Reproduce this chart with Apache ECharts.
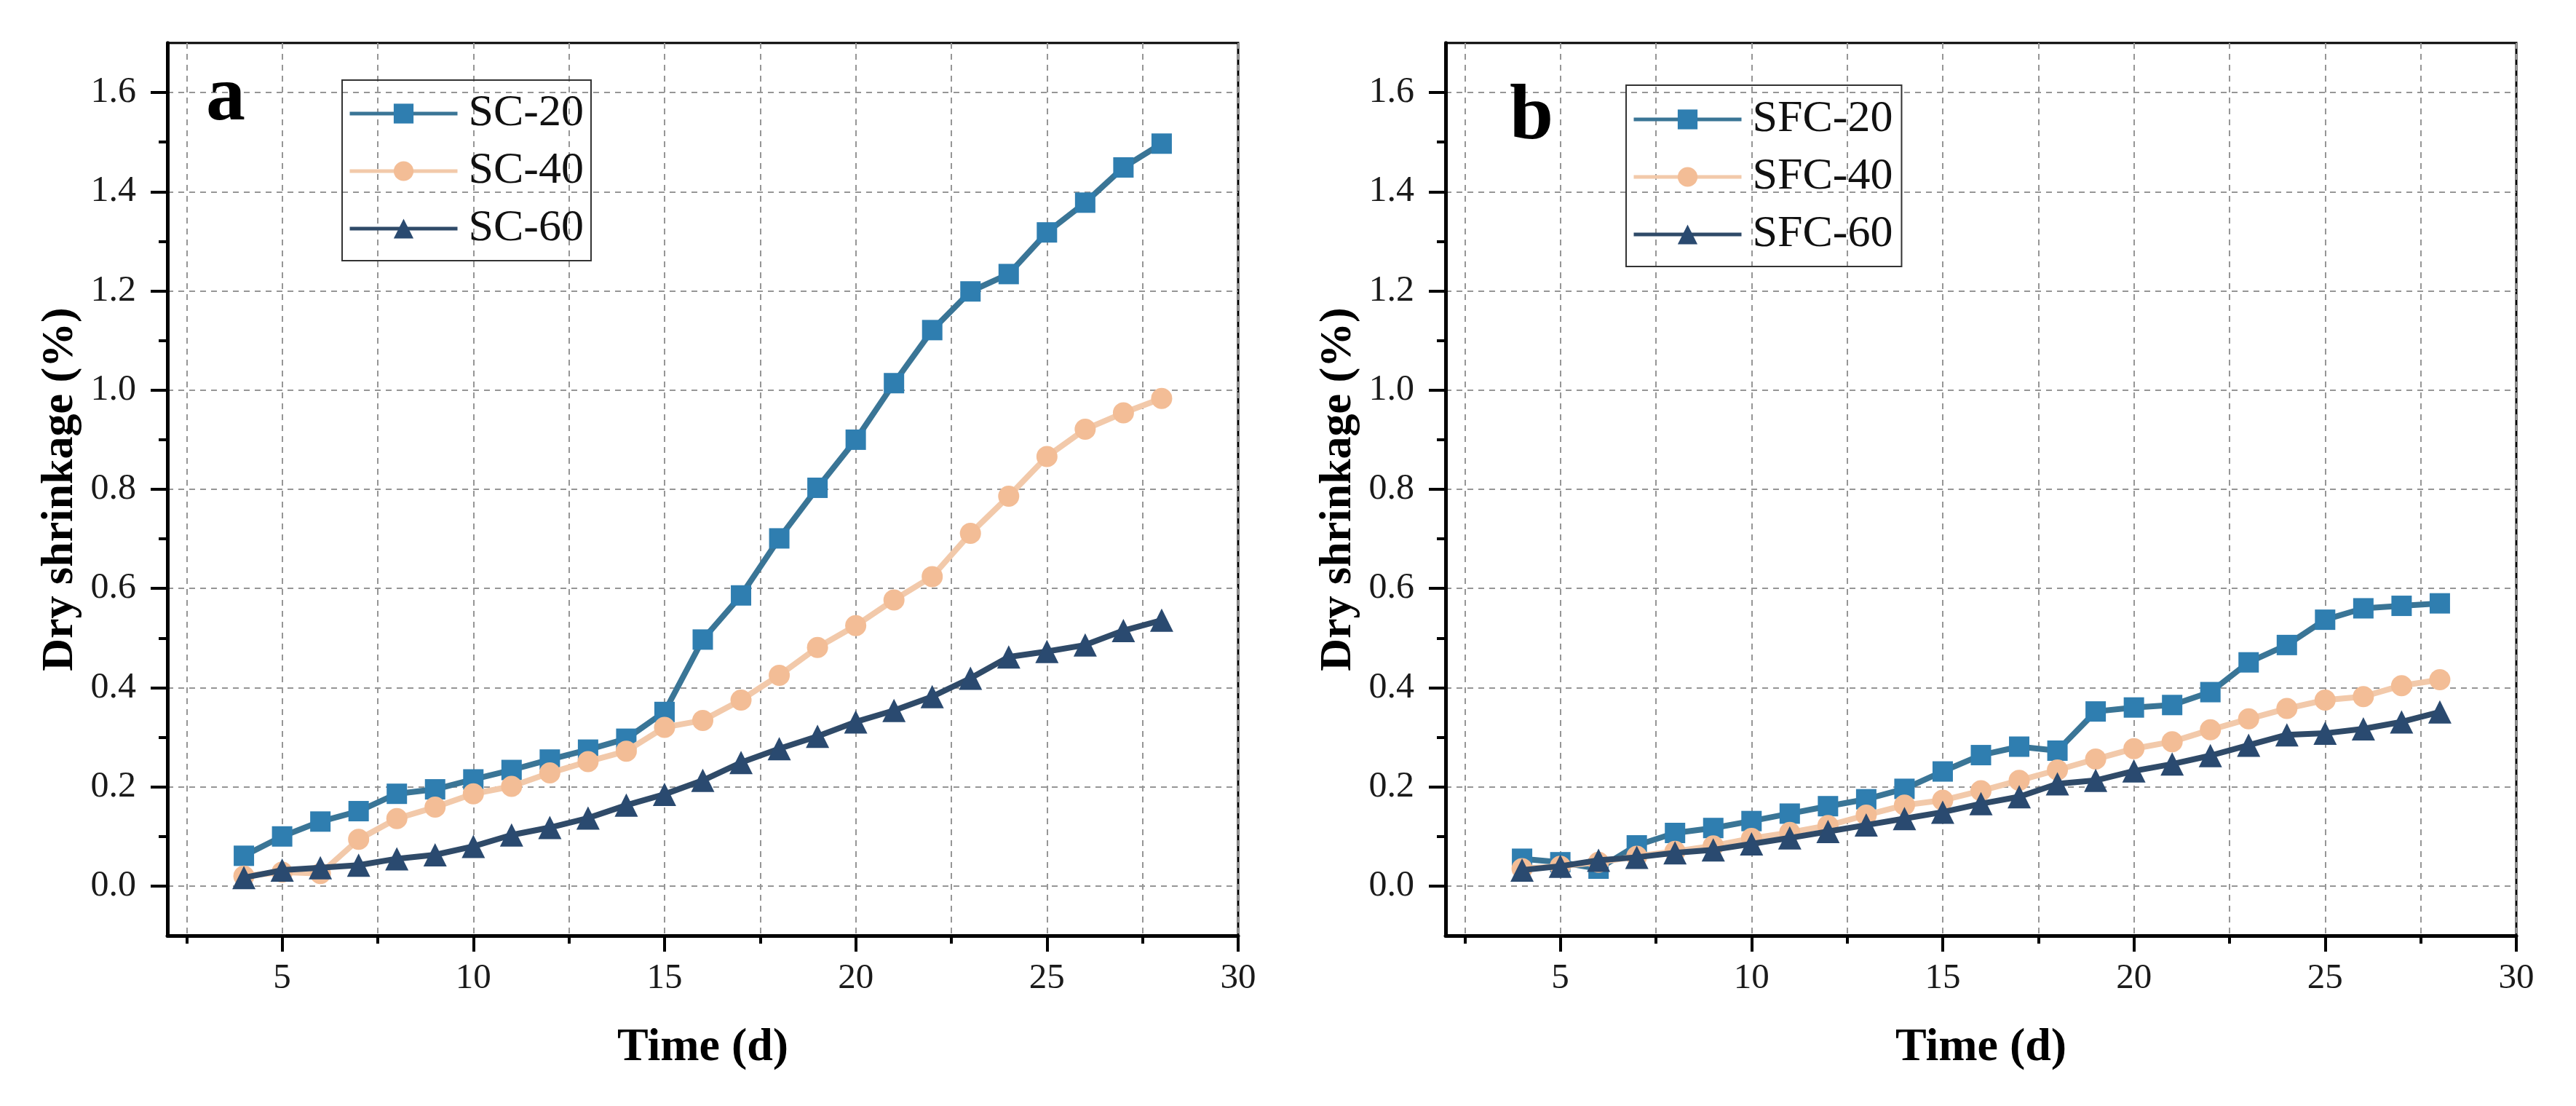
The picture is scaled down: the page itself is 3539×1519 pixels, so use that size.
<!DOCTYPE html>
<html><head><meta charset="utf-8">
<script src="https://cdn.jsdelivr.net/npm/echarts@6/dist/echarts.min.js"></script>
<style>html,body{margin:0;padding:0;background:#fff}#c{width:3539px;height:1519px}</style>
</head><body><div id="c"></div>
<script>
// ---------- data ----------
const days = [4,5,6,7,8,9,10,11,12,13,14,15,16,17,18,19,20,21,22,23,24,25,26,27,28];
const SC20 = [0.061,0.100,0.130,0.151,0.186,0.195,0.215,0.234,0.255,0.275,0.297,0.351,0.497,0.586,0.701,0.803,0.900,1.014,1.121,1.199,1.234,1.318,1.378,1.449,1.497];
const SC40 = [0.020,0.028,0.025,0.094,0.136,0.159,0.186,0.201,0.228,0.251,0.272,0.320,0.334,0.375,0.425,0.481,0.525,0.577,0.624,0.711,0.786,0.866,0.921,0.954,0.983];
const SC60 = [0.017,0.032,0.037,0.042,0.055,0.063,0.080,0.103,0.118,0.137,0.163,0.185,0.213,0.249,0.277,0.302,0.331,0.354,0.382,0.419,0.462,0.473,0.486,0.515,0.536];
const SFC20 = [0.055,0.048,0.035,0.082,0.107,0.117,0.131,0.146,0.161,0.175,0.196,0.231,0.264,0.281,0.273,0.352,0.360,0.365,0.391,0.451,0.486,0.537,0.560,0.565,0.570];
const SFC40 = [0.035,0.040,0.048,0.060,0.070,0.081,0.096,0.108,0.122,0.143,0.163,0.173,0.192,0.213,0.234,0.256,0.277,0.291,0.315,0.337,0.358,0.375,0.382,0.404,0.416];
const SFC60 = [0.032,0.040,0.052,0.058,0.067,0.073,0.085,0.097,0.110,0.123,0.136,0.149,0.166,0.180,0.206,0.213,0.232,0.246,0.263,0.284,0.305,0.308,0.317,0.331,0.351];
const namesA = ['SC-20','SC-40','SC-60'];
const namesB = ['SFC-20','SFC-40','SFC-60'];
const panelLabels = ['a','b'];
const xTitle = 'Time (d)';
const yTitle = 'Dry shrinkage (%)';
const xMajorTicks = [5,10,15,20,25,30];
const xMinorTicks = [2.5,7.5,12.5,17.5,22.5,27.5];
const yMajorTicks = [0,0.2,0.4,0.6,0.8,1.0,1.2,1.4,1.6];
const yMinorTicks = [0.1,0.3,0.5,0.7,0.9,1.1,1.3,1.5];
const xRange = [2,30];
const yRange = [-0.1,1.7];

// ---------- style ----------
const FONT = "'Liberation Serif','Times New Roman',serif";
const styles = [
  {symbol:'rect', size:28, line:'#3a7596', fill:'#2f7eb0'},
  {symbol:'circle', size:29, line:'#f2c9aa', fill:'#f3bd96'},
  {symbol:'triangle', size:32, line:'#2f4a68', fill:'#2a4a70'}
];
const gridDefs = [
  {left:230, top:59, width:1471, height:1226},
  {left:1986, top:59, width:1471, height:1226}
];
const legendDefs = [
  {left:470, top:110, padding:[15,10,13,8]},
  {left:2234, top:117, padding:[16,12,13,8]}
];
const labelPos = [{left:283, top:82},{left:2074, top:108}];

const splitStyle = {show:true, lineStyle:{color:'#969696', width:2, type:[8,7]}};

const grids = [], xAxes = [], yAxes = [], series = [], legends = [], titles = [];
const panelData = [[SC20,SC40,SC60],[SFC20,SFC40,SFC60]];
const panelNames = [namesA, namesB];

gridDefs.forEach((g, p) => {
  grids.push(Object.assign({show:true, borderColor:'#000', borderWidth:3, backgroundColor:'transparent', outerBoundsMode:'none', containLabel:false}, g));
  xAxes.push({
    type:'value', gridIndex:p, position:'bottom', min:xRange[0], max:xRange[1],
    axisLine:{show:true, onZero:false, lineStyle:{color:'#000', width:5}},
    axisTick:{show:true, inside:false, length:22, customValues:xMajorTicks, lineStyle:{color:'#000', width:4}},
    axisLabel:{show:true, customValues:xMajorTicks, margin:35, fontFamily:FONT, fontSize:49, color:'#1a1a1a'},
    splitLine:splitStyle,
    name:xTitle, nameLocation:'middle', nameGap:122,
    nameTextStyle:{fontFamily:FONT, fontWeight:'bold', fontSize:64, color:'#000'}
  });
  xAxes.push({
    type:'value', gridIndex:p, position:'bottom', min:xRange[0], max:xRange[1],
    axisLine:{show:false, onZero:false},
    axisTick:{show:true, inside:false, length:11, customValues:xMinorTicks, lineStyle:{color:'#000', width:4}},
    axisLabel:{show:false},
    splitLine:splitStyle
  });
  yAxes.push({
    type:'value', gridIndex:p, position:'left', min:yRange[0], max:yRange[1],
    axisLine:{show:true, onZero:false, lineStyle:{color:'#000', width:5}},
    axisTick:{show:true, inside:false, length:23, customValues:yMajorTicks, lineStyle:{color:'#000', width:4}},
    axisLabel:{show:true, customValues:yMajorTicks, margin:43, fontFamily:FONT, fontSize:50, color:'#1a1a1a',
      formatter:(v)=>Number(v).toFixed(1)},
    splitLine:splitStyle,
    name:yTitle, nameLocation:'middle', nameGap:116,
    nameTextStyle:{fontFamily:FONT, fontWeight:'bold', fontSize:62, color:'#000'}
  });
  yAxes.push({
    type:'value', gridIndex:p, position:'left', min:yRange[0], max:yRange[1],
    axisLine:{show:false, onZero:false},
    axisTick:{show:true, inside:false, length:12, customValues:yMinorTicks, lineStyle:{color:'#000', width:4}},
    axisLabel:{show:false},
    splitLine:{show:false}
  });
  panelData[p].forEach((arr, k) => {
    const st = styles[k];
    series.push({
      type:'line', name:panelNames[p][k], xAxisIndex:p*2, yAxisIndex:p*2,
      data: days.map((d,i)=>[d, arr[i]]),
      symbol:st.symbol, symbolSize:st.size, showSymbol:true,
      lineStyle:{color:st.line, width:8},
      itemStyle:{color:st.fill, borderWidth:0},
      z: 3 + k, animation:false
    });
  });
  legends.push(Object.assign({
    orient:'vertical', data:panelNames[p], itemWidth:148, itemHeight:34, itemGap:17,
    borderColor:'#333', borderWidth:2, backgroundColor:'transparent', selectedMode:false,
    lineStyle:{width:5},
    textStyle:{fontFamily:FONT, fontSize:62, color:'#111', padding:[0,0,0,10]}
  }, legendDefs[p]));
  titles.push({
    text:panelLabels[p], left:labelPos[p].left, top:labelPos[p].top, padding:0,
    textStyle:{fontFamily:FONT, fontWeight:'bold', fontSize:108, color:'#000'}
  });
});

const chart = echarts.init(document.getElementById('c'), null, {renderer:'canvas'});
chart.setOption({
  backgroundColor:'#fff', animation:false,
  title:titles, grid:grids, xAxis:xAxes, yAxis:yAxes, legend:legends, series:series
});
</script></body></html>
